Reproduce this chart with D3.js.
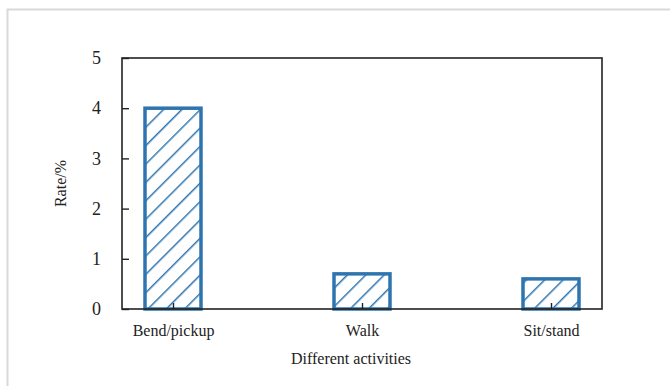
<!DOCTYPE html>
<html>
<head>
<meta charset="utf-8">
<script src="https://cdn.jsdelivr.net/npm/d3@7"></script>
<style>
  body { margin: 0; background: #fff; }
  svg text { font-family: 'Liberation Serif', 'DejaVu Serif', serif !important; fill: #222; }
</style>
</head>
<body>
<div id="chart"></div>
<script>
// data
var activities = ["Bend/pickup", "Walk", "Sit/stand"];
var rates = [4.0, 0.7, 0.6];
var yTicks = [0, 1, 2, 3, 4, 5];

var W = 670, H = 386;
var margin = { top: 58, right: 68, bottom: 77, left: 122 },
    width = W - margin.left - margin.right,
    height = H - margin.top - margin.bottom;

var blue = "#2e75b0";

var root = d3.select("#chart")
    .append("svg")
    .attr("width", W)
    .attr("height", H);

// light outer frame
root.append("path")
    .attr("d", "M7.5," + H + "V9.5H" + W)
    .attr("fill", "none")
    .attr("stroke", "#d9d9d9")
    .attr("stroke-width", 2);

// hatch pattern
var pat = root.append("defs").append("pattern")
    .attr("id", "hatch")
    .attr("patternUnits", "userSpaceOnUse")
    .attr("width", 13)
    .attr("height", 13)
    .attr("patternTransform", "rotate(45)");
pat.append("rect").attr("width", 13).attr("height", 13).attr("fill", "#fff");
pat.append("line")
    .attr("x1", 0).attr("y1", 0).attr("x2", 0).attr("y2", 13)
    .attr("stroke", blue)
    .attr("stroke-width", 3);

var svg = root.append("g")
    .attr("transform", "translate(" + margin.left + "," + margin.top + ")");

// x: bar centres
var x = d3.scalePoint()
    .domain(activities)
    .range([51, 429]);
var barW = 56;

var y = d3.scaleLinear()
    .domain([0, 5])
    .range([height, 0]);

// bars
svg.selectAll(".bar")
    .data(activities)
    .enter()
    .append("rect")
    .attr("class", "bar")
    .attr("x", function (d) { return x(d) - barW / 2; })
    .attr("y", function (d, i) { return y(rates[i]); })
    .attr("width", barW)
    .attr("height", function (d, i) { return height - y(rates[i]); })
    .attr("fill", "url(#hatch)")
    .attr("stroke", blue)
    .attr("stroke-width", 3.5);

// plot frame
svg.append("rect")
    .attr("width", width)
    .attr("height", height)
    .attr("fill", "none")
    .attr("stroke", "#222")
    .attr("stroke-width", 1.6);

// y axis with inward ticks
var yAxis = svg.append("g")
    .call(d3.axisLeft(y).tickValues(yTicks).tickFormat(d3.format("d"))
        .tickSizeInner(-7).tickSizeOuter(0).tickPadding(21));
yAxis.attr("font-family", null).attr("font-size", null);
yAxis.select(".domain").remove();
yAxis.selectAll("line").attr("stroke", "#222").attr("stroke-width", 1.4);
yAxis.selectAll("text")
    .style("font-size", "18px")
    .attr("fill", "#222");

// x axis with inward ticks
var xAxis = svg.append("g")
    .attr("transform", "translate(0," + height + ")")
    .call(d3.axisBottom(x).tickSizeInner(-6).tickSizeOuter(0).tickPadding(16));
xAxis.attr("font-family", null).attr("font-size", null);
xAxis.select(".domain").remove();
xAxis.selectAll("line").attr("stroke", "#222").attr("stroke-width", 1.4);
xAxis.selectAll("text")
    .style("font-size", "16px")
    .attr("fill", "#222");

// y axis title
svg.append("text")
    .attr("transform", "rotate(-90)")
    .attr("x", -height / 2)
    .attr("y", -56)
    .style("text-anchor", "middle")
    .style("font-size", "16px")
    .text("Rate/%");

// x axis title
svg.append("text")
    .attr("x", 229)
    .attr("y", height + 55)
    .style("text-anchor", "middle")
    .style("font-size", "16px")
    .text("Different activities");
</script>
</body>
</html>
